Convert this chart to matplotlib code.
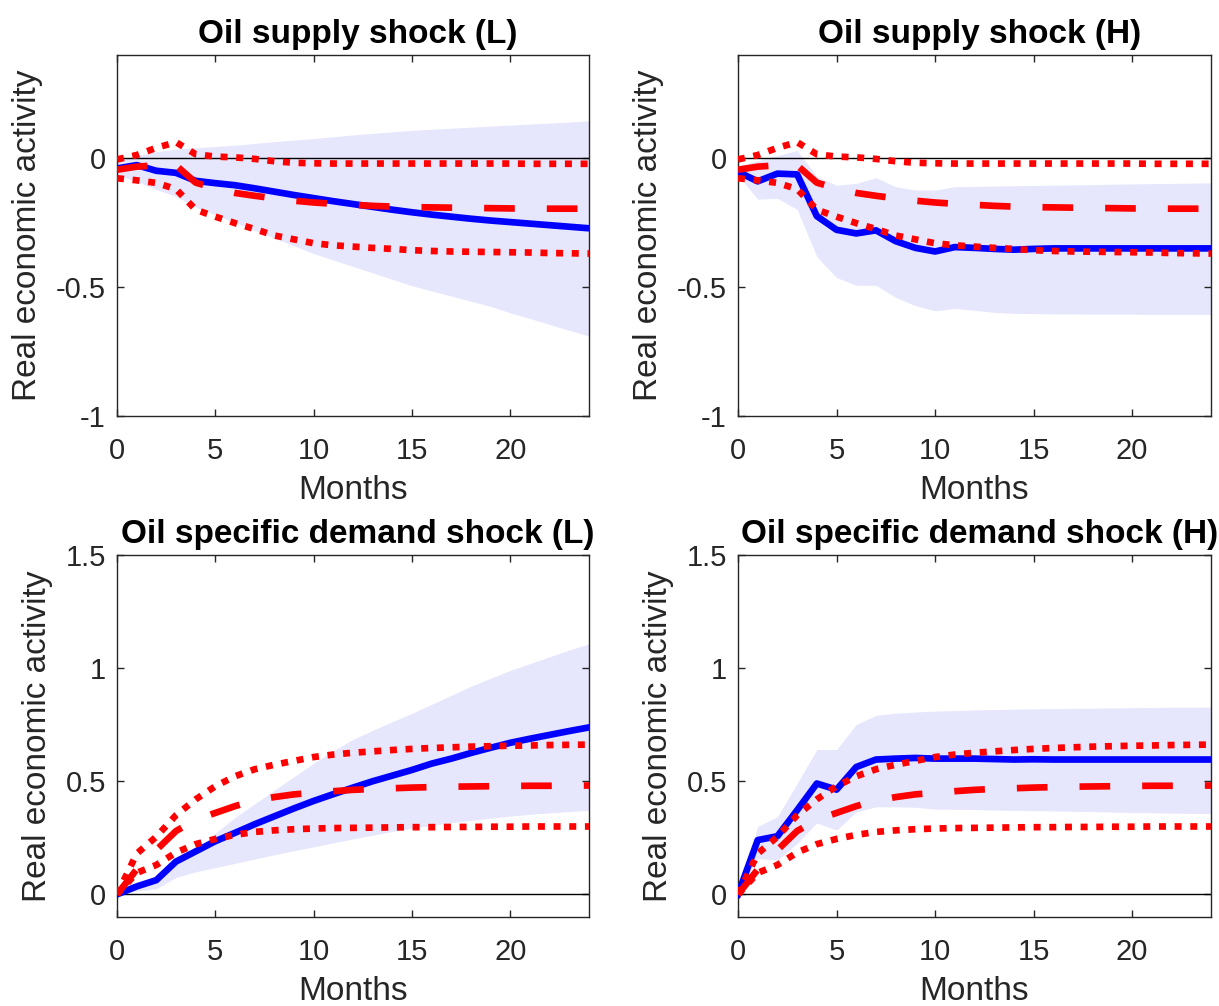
import numpy as np
import matplotlib.pyplot as plt

plt.rcParams['font.family'] = ['Liberation Sans', 'DejaVu Sans']

months = np.arange(25)

# Benchmark responses (red), shared by L and H panels
sup_med = [-0.045, -0.033, -0.028, -0.028, -0.095, -0.118, -0.135, -0.146, -0.156, -0.165, -0.172, -0.177, -0.181,
           -0.185, -0.188, -0.19, -0.191, -0.192, -0.193, -0.194, -0.195, -0.195, -0.196, -0.196, -0.196]
sup_hi = [-0.005, 0.012, 0.04, 0.062, 0.015, 0.006, 0.003, -0.003, -0.012, -0.018, -0.02, -0.021, -0.021,
          -0.021, -0.021, -0.021, -0.021, -0.021, -0.021, -0.021, -0.021, -0.022, -0.022, -0.022, -0.022]
sup_lo = [-0.078, -0.086, -0.096, -0.12, -0.2, -0.227, -0.252, -0.275, -0.3, -0.315, -0.33, -0.338, -0.343,
          -0.348, -0.352, -0.357, -0.36, -0.362, -0.363, -0.364, -0.365, -0.366, -0.368, -0.369, -0.37]

dem_med = [0.0, 0.11, 0.196, 0.28, 0.33, 0.36, 0.39, 0.415, 0.43, 0.442, 0.449, 0.456, 0.462, 0.466, 0.469,
           0.472, 0.474, 0.476, 0.477, 0.478, 0.479, 0.48, 0.48, 0.481, 0.481]
dem_hi = [0.0, 0.18, 0.255, 0.35, 0.42, 0.478, 0.522, 0.553, 0.573, 0.59, 0.607, 0.618, 0.626, 0.632, 0.638,
          0.643, 0.647, 0.65, 0.653, 0.655, 0.657, 0.658, 0.66, 0.661, 0.662]
dem_lo = [0.0, 0.095, 0.13, 0.185, 0.222, 0.245, 0.263, 0.276, 0.283, 0.288, 0.291, 0.293, 0.294, 0.295, 0.296,
          0.297, 0.297, 0.298, 0.298, 0.299, 0.299, 0.3, 0.3, 0.3, 0.3]

# Regime responses (blue) with bands
supL = [-0.04, -0.027, -0.049, -0.057, -0.088, -0.097, -0.105, -0.117, -0.13, -0.143, -0.155, -0.167, -0.178,
        -0.189, -0.2, -0.21, -0.219, -0.227, -0.235, -0.242, -0.248, -0.254, -0.26, -0.266, -0.272]
supL_hi = [-0.01, 0.01, 0.025, 0.035, 0.04, 0.045, 0.05, 0.057, 0.064, 0.07, 0.076, 0.083, 0.09, 0.096, 0.102,
           0.108, 0.112, 0.116, 0.12, 0.124, 0.128, 0.132, 0.136, 0.14, 0.145]
supL_lo = [-0.065, -0.09, -0.122, -0.148, -0.19, -0.22, -0.25, -0.28, -0.31, -0.34, -0.37, -0.395, -0.42,
           -0.445, -0.47, -0.495, -0.515, -0.535, -0.555, -0.575, -0.6, -0.622, -0.645, -0.668, -0.69]

supH = [-0.053, -0.09, -0.06, -0.063, -0.225, -0.278, -0.292, -0.28, -0.322, -0.348, -0.362, -0.345, -0.348,
        -0.352, -0.355, -0.352, -0.35, -0.35, -0.35, -0.35, -0.35, -0.35, -0.35, -0.35, -0.35]
supH_hi = [-0.03, -0.01, 0.01, 0.03, -0.072, -0.105, -0.098, -0.076, -0.111, -0.124, -0.124, -0.111, -0.11,
           -0.108, -0.107, -0.106, -0.105, -0.104, -0.103, -0.101, -0.1, -0.099, -0.098, -0.097, -0.096]
supH_lo = [-0.066, -0.159, -0.156, -0.199, -0.382, -0.463, -0.493, -0.493, -0.54, -0.572, -0.592, -0.583, -0.59,
           -0.598, -0.602, -0.603, -0.604, -0.604, -0.605, -0.605, -0.605, -0.606, -0.606, -0.606, -0.606]

demL = [0.0, 0.035, 0.063, 0.145, 0.19, 0.235, 0.272, 0.31, 0.345, 0.38, 0.413, 0.443, 0.472, 0.5, 0.525,
        0.55, 0.578, 0.6, 0.625, 0.648, 0.67, 0.688, 0.705, 0.722, 0.738]
demL_hi = [0.0, 0.04, 0.08, 0.15, 0.2, 0.27, 0.34, 0.4, 0.46, 0.52, 0.58, 0.635, 0.685, 0.725, 0.763, 0.8,
           0.84, 0.88, 0.92, 0.955, 0.99, 1.02, 1.05, 1.08, 1.107]
demL_lo = [0.0, 0.015, 0.025, 0.075, 0.1, 0.118, 0.137, 0.156, 0.175, 0.193, 0.21, 0.228, 0.245, 0.262, 0.278,
           0.293, 0.305, 0.317, 0.327, 0.337, 0.346, 0.354, 0.36, 0.366, 0.372]

demH = [0.0, 0.24, 0.257, 0.372, 0.49, 0.463, 0.563, 0.596, 0.6, 0.603, 0.6, 0.6, 0.6, 0.598, 0.596,
        0.597, 0.596, 0.596, 0.596, 0.596, 0.596, 0.596, 0.596, 0.596, 0.596]
demH_hi = [0.0, 0.3, 0.343, 0.49, 0.64, 0.64, 0.751, 0.791, 0.801, 0.806, 0.81, 0.812, 0.815, 0.817, 0.818,
           0.82, 0.821, 0.822, 0.823, 0.824, 0.825, 0.826, 0.827, 0.827, 0.828]
demH_lo = [0.0, 0.159, 0.151, 0.225, 0.316, 0.284, 0.365, 0.387, 0.387, 0.385, 0.377, 0.376, 0.375, 0.373, 0.371,
           0.37, 0.369, 0.367, 0.366, 0.364, 0.362, 0.361, 0.359, 0.358, 0.357]

titles = ['Oil supply shock (L)', 'Oil supply shock (H)',
          'Oil specific demand shock (L)', 'Oil specific demand shock (H)']

grey = (0.15, 0.15, 0.15)
band_col = (0.9, 0.9, 0.99)
lw = 4.8


def panel(ax, title, mid, lo, hi, b_mid, b_lo, b_hi, ylim, yticks, yticklabels):
    ax.fill_between(months, lo, hi, color=band_col, linewidth=0, zorder=1)
    ax.axhline(0, color='k', linewidth=1.0, zorder=2)
    ax.plot(months, mid, color='b', linewidth=lw, zorder=3)
    ax.plot(months, b_mid, color='r', linewidth=lw, dashes=(4.6, 4.8), zorder=4)
    ax.plot(months, b_hi, color='r', linewidth=lw, dashes=(1.05, 1.3), zorder=4)
    ax.plot(months, b_lo, color='r', linewidth=lw, dashes=(1.05, 1.3), zorder=4)
    ax.set_xlim(0, 24)
    ax.set_ylim(*ylim)
    ax.set_xticks([0, 5, 10, 15, 20])
    ax.set_yticks(yticks)
    ax.set_yticklabels(yticklabels)
    ax.tick_params(direction='in', length=5, width=1, colors=grey, labelsize=21,
                   top=True, right=True)
    ax.tick_params(axis='x', pad=15)
    ax.tick_params(axis='y', pad=8)
    for s in ax.spines.values():
        s.set_color(grey)
        s.set_linewidth(1.0)
    ax.set_xlabel('Months', fontsize=24, color=grey, labelpad=7)
    ax.set_ylabel('Real economic activity', fontsize=24, color=grey, labelpad=9)
    t = ax.set_title(title, fontsize=24, fontweight='bold', pad=8.5)
    t.set_x(0.51)


fig = plt.figure(figsize=(12.19, 10.06), dpi=100)
W, H = 1219, 1006
boxes = [(117, 55, 589, 416), (738, 55, 1211, 416), (117, 555, 589, 917), (738, 555, 1211, 917)]
axes = [fig.add_axes([l / W, 1 - b / H, (r - l) / W, (b - t) / H]) for l, t, r, b in boxes]

sup_ticks = [-1, -0.5, 0]
sup_labels = ['-1', '-0.5', '0']
dem_ticks = [0, 0.5, 1, 1.5]
dem_labels = ['0', '0.5', '1', '1.5']

panel(axes[0], titles[0], supL, supL_lo, supL_hi, sup_med, sup_lo, sup_hi, (-1, 0.4), sup_ticks, sup_labels)
panel(axes[1], titles[1], supH, supH_lo, supH_hi, sup_med, sup_lo, sup_hi, (-1, 0.4), sup_ticks, sup_labels)
panel(axes[2], titles[2], demL, demL_lo, demL_hi, dem_med, dem_lo, dem_hi, (-0.1, 1.5), dem_ticks, dem_labels)
panel(axes[3], titles[3], demH, demH_lo, demH_hi, dem_med, dem_lo, dem_hi, (-0.1, 1.5), dem_ticks, dem_labels)

fig.savefig('out.png', dpi=100)
